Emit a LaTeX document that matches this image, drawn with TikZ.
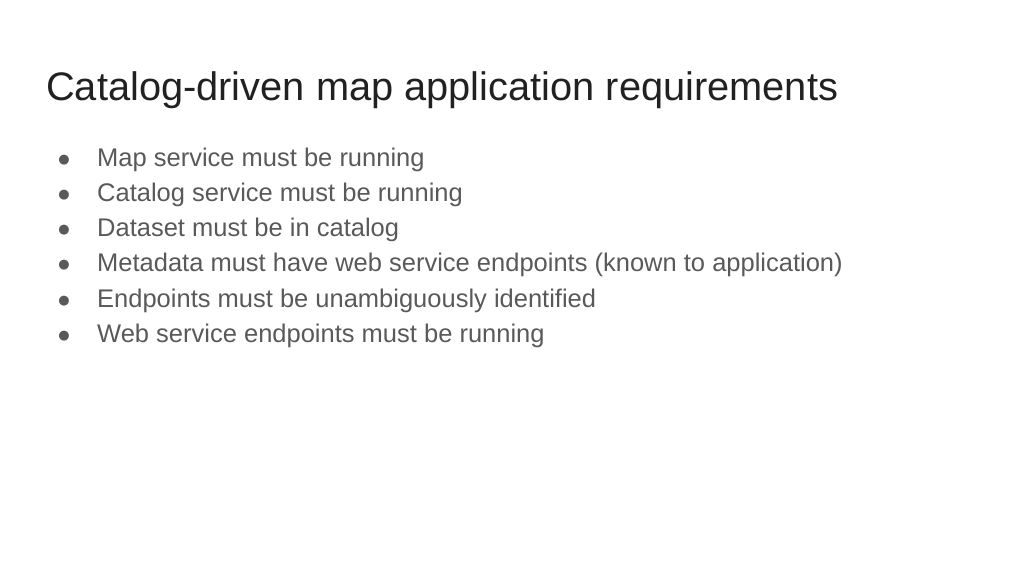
\documentclass[tikz,border=0pt]{standalone}
\usepackage{fontspec}
\setmainfont{Liberation Sans}
\newfontfamily\symfont{DejaVu Sans}
\definecolor{titlegray}{HTML}{212121}
\definecolor{textgray}{HTML}{595959}
\tikzset{
  title/.style={anchor=base west, inner sep=0pt, text=titlegray, font=\fontsize{39.8}{44}\selectfont},
  item/.style={anchor=base west, inner sep=0pt, text=textgray, font=\fontsize{25.5}{30}\selectfont},
  dot/.style={anchor=base, inner sep=0pt, text=textgray, font=\symfont\fontsize{13}{15}\selectfont}
}
\begin{document}
\begin{tikzpicture}[x=1pt,y=-1pt]
\useasboundingbox (0,0) rectangle (1024,576);
\node (head) [title] at (46,100) {Catalog-driven map application requirements};
\foreach \txt [count=\i] in {Map service must be running,
  Catalog service must be running,
  Dataset must be in catalog,
  Metadata must have web service endpoints (known to application),
  Endpoints must be unambiguously identified,
  Web service endpoints must be running}
{
  \node (item\i) [item] at (97,{166+35.3*(\i-1)}) {\txt};
  \node (dot\i) [dot] at (64,{163+35.3*(\i-1)}) {●};
}
\end{tikzpicture}
\end{document}
